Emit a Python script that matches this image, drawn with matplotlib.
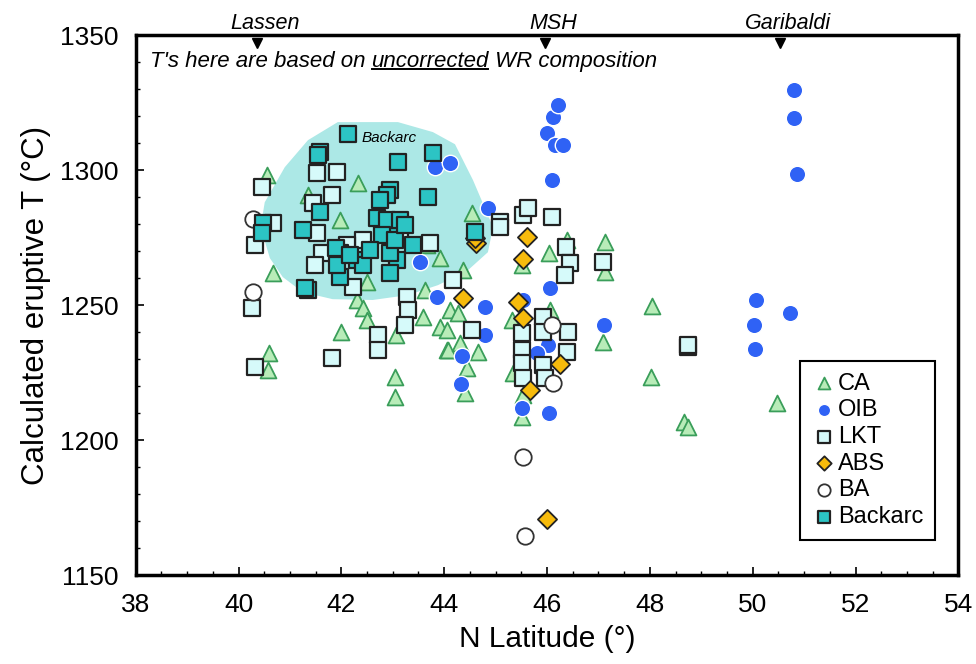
import matplotlib
matplotlib.use("Agg")
import matplotlib.pyplot as plt
from matplotlib.patches import Polygon
from matplotlib.lines import Line2D

plt.rcParams['font.family'] = ['Liberation Sans', 'DejaVu Sans']

# ---- data (latitude in deg N, T in deg C) ----
ca_lat = [40.55, 42.32, 41.35, 41.97, 40.67, 42.50, 43.92, 43.66, 42.30, 42.42, 42.50, 43.63,
          43.59, 43.92, 44.05, 41.99, 43.06, 40.59, 40.57, 43.04, 43.04, 44.05, 44.54, 43.63,
          46.04, 47.13, 47.13, 46.39, 44.37, 44.11, 44.27, 45.32, 46.06, 44.07, 44.66, 44.44,
          44.40, 45.34, 45.53, 45.51, 47.09, 44.31, 48.04, 48.02, 48.67, 48.74, 50.48, 45.51]
ca_t = [1298.1, 1295.2, 1290.7, 1281.5, 1261.9, 1258.5, 1267.4, 1272.2, 1251.9, 1248.9, 1244.4, 1255.6,
        1245.6, 1241.9, 1240.7, 1240.0, 1238.9, 1232.2, 1225.9, 1223.3, 1215.9, 1233.3, 1284.1, 1273.0,
        1269.3, 1273.3, 1262.2, 1274.1, 1263.0, 1248.1, 1247.0, 1244.4, 1248.1, 1233.3, 1232.6, 1226.7,
        1217.4, 1224.8, 1216.7, 1208.5, 1236.3, 1235.9, 1249.6, 1223.3, 1206.7, 1204.8, 1213.7, 1264.8]

oib_lat = [43.82, 44.11, 43.53, 44.85, 46.10, 46.00, 46.12, 46.21, 46.16, 46.31, 46.06, 43.86,
           44.79, 47.11, 44.79, 44.35, 44.33, 45.53, 46.02, 45.81, 45.51, 46.04, 50.07, 50.03,
           50.05, 50.73, 50.81, 50.81, 50.87]
oib_t = [1301.1, 1302.6, 1265.9, 1285.9, 1296.3, 1313.7, 1319.6, 1324.1, 1309.3, 1309.3, 1256.3, 1253.0,
         1249.3, 1242.6, 1238.9, 1231.1, 1220.7, 1251.9, 1235.2, 1232.2, 1211.9, 1210.0, 1251.9, 1242.6,
         1233.7, 1247.0, 1329.6, 1319.3, 1298.5]

lkt_lat = [40.45, 41.52, 41.91, 41.82, 41.45, 40.67, 40.32, 41.52, 42.42, 41.62, 41.48, 42.11,
           42.22, 43.27, 43.29, 43.24, 42.71, 42.71, 41.82, 40.32, 40.26, 44.17, 45.09, 45.09,
           45.53, 45.63, 46.10, 46.37, 46.45, 46.35, 47.09, 44.54, 45.51, 45.92, 46.41, 45.51,
           45.92, 46.39, 45.51, 45.92, 45.53, 45.96, 48.74, 48.74, 43.14, 43.72]
lkt_t = [1293.7, 1298.9, 1299.3, 1290.7, 1287.8, 1280.4, 1272.2, 1276.7, 1274.1, 1269.3, 1264.8, 1272.2,
         1256.7, 1253.0, 1248.1, 1242.6, 1238.9, 1233.3, 1230.4, 1227.0, 1248.9, 1259.3, 1280.7, 1278.9,
         1283.3, 1285.9, 1282.6, 1271.5, 1265.6, 1261.1, 1265.9, 1240.7, 1239.6, 1245.6, 1240.0, 1233.3,
         1240.0, 1232.6, 1228.5, 1227.8, 1223.0, 1223.0, 1234.4, 1235.4, 1277.8, 1273.0]

abs_lat = [44.62, 44.60, 45.61, 45.53, 44.37, 45.44, 45.53, 46.25, 45.67, 46.00]
abs_t = [1273.0, 1275.0, 1275.2, 1267.0, 1252.6, 1251.1, 1245.2, 1228.1, 1218.5, 1170.7]

ba_lat = [40.28, 40.28, 46.10, 46.12, 45.53, 45.57]
ba_t = [1281.9, 1254.8, 1242.6, 1221.1, 1193.7, 1164.4]

bac_lat = [42.13, 41.58, 41.54, 43.10, 43.78, 42.94, 42.89, 43.68, 41.58, 40.47, 40.45, 41.25,
           41.97, 41.97, 41.35, 41.29, 42.69, 43.00, 43.08, 42.94, 42.30, 42.42, 42.94, 43.39,
           42.89, 43.14, 42.79, 44.60, 41.89, 41.91, 42.17, 42.55, 43.04, 43.24, 42.75]
bac_t = [1313.3, 1306.7, 1305.6, 1303.0, 1306.3, 1292.6, 1290.7, 1290.0, 1284.4, 1280.4, 1276.7, 1277.8,
         1269.3, 1260.4, 1255.6, 1256.3, 1282.2, 1277.0, 1266.7, 1261.9, 1266.7, 1264.8, 1269.3, 1272.2,
         1281.5, 1281.5, 1275.9, 1277.0, 1271.1, 1264.8, 1268.5, 1270.4, 1274.1, 1279.6, 1288.9]

# outline of the shaded backarc field
field_lat = [40.61, 40.43, 40.51, 40.90, 41.35, 41.93, 43.10, 43.78, 44.21, 44.56, 44.95, 44.85,
             44.46, 43.88, 43.29, 42.61, 41.83, 41.25, 40.86]
field_t = [1267.4, 1278.9, 1288.1, 1301.1, 1311.1, 1317.8, 1317.8, 1314.1, 1309.6, 1296.3, 1278.9, 1269.6,
           1262.9, 1257.4, 1253.7, 1251.9, 1252.2, 1254.8, 1260.4]

volc_names = ['Lassen', 'MSH', 'Garibaldi']
volc_lat = [40.35, 45.96, 50.53]

fig = plt.figure(figsize=(9.76, 6.64), dpi=100)
ax = fig.add_axes([0.139, 0.134, 0.843, 0.813])

ax.add_patch(Polygon(list(zip(field_lat, field_t)), closed=True, facecolor='#ace8e6',
                     edgecolor='none', zorder=1))
ax.text(42.4, 1312, 'Backarc', fontsize=11, style='italic', va='center', zorder=6)

ax.scatter(ca_lat, ca_t, marker='^', s=130, facecolor='#b8ecb8', edgecolor='#3a9e5a',
           linewidth=1.3, zorder=2, label='CA')
ax.scatter(oib_lat, oib_t, marker='o', s=140, facecolor='#2f62f5', edgecolor='white',
           linewidth=1.0, zorder=3, label='OIB')
ax.scatter(lkt_lat, lkt_t, marker='s', s=145, facecolor='#d6fafa', edgecolor='#222222',
           linewidth=1.6, zorder=4, label='LKT')
ax.scatter(abs_lat, abs_t, marker='D', s=95, facecolor='#f7bb0c', edgecolor='#222222',
           linewidth=1.3, zorder=5, label='ABS')
ax.scatter(ba_lat, ba_t, marker='o', s=140, facecolor='white', edgecolor='#333333',
           linewidth=1.3, zorder=5, label='BA')
ax.scatter(bac_lat, bac_t, marker='s', s=145, facecolor='#2cc4c4', edgecolor='#222222',
           linewidth=1.6, zorder=5, label='Backarc')

ax.set_xlim(38, 54)
ax.set_ylim(1150, 1350)
ax.set_xticks(range(38, 55, 2))
ax.set_yticks(range(1150, 1351, 50))
ax.set_xticks([38 + 0.5 * i for i in range(33)], minor=True)
ax.set_yticks(range(1150, 1351, 10), minor=True)
ax.tick_params(which='both', direction='in', top=False, right=False, labelsize=19)
ax.tick_params(which='major', length=6, width=1.2)
ax.tick_params(which='minor', length=3, width=1.0)
ax.tick_params(axis='x', which='major', pad=13)
ax.tick_params(axis='y', which='major', pad=12)
for sp in ax.spines.values():
    sp.set_linewidth(2.5)

ax.set_xlabel('N Latitude (°)', fontsize=21.5, labelpad=6)
ax.set_ylabel('Calculated eruptive T (°C)', fontsize=22.5, labelpad=7)

# volcano markers along the top edge
ax.plot(volc_lat, [1347] * len(volc_lat), 'v', color='black', ms=7, clip_on=False, zorder=7)
for name, lat in zip(volc_names, volc_lat):
    ax.annotate(name, xy=(lat, 1350), xytext=(6, 1), textcoords='offset points',
                ha='center', va='bottom', fontsize=15.5, style='italic', annotation_clip=False)

# note with underlined word
fs_note = 16
t1 = ax.text(0.017, 0.952, "T's here are based on ", transform=ax.transAxes,
             fontsize=fs_note, style='italic', va='center', ha='left')
t2 = ax.annotate('uncorrected', xy=(1, 0), xycoords=t1, va='bottom', ha='left',
                 fontsize=fs_note, style='italic')
t3 = ax.annotate(' WR composition', xy=(1, 0), xycoords=t2, va='bottom', ha='left',
                 fontsize=fs_note, style='italic')
fig.canvas.draw()
bb = t2.get_window_extent()
inv = fig.transFigure.inverted()
(x0, y0), (x1, _) = inv.transform([(bb.x0 + 1, bb.y0 + 3), (bb.x1 - 1, bb.y0 + 3)])
fig.add_artist(Line2D([x0, x1], [y0, y0], color='black', lw=1.4))

leg = ax.legend(loc='lower right', bbox_to_anchor=(0.972, 0.065), fontsize=17,
                frameon=True, fancybox=False, edgecolor='black', framealpha=1,
                handletextpad=0.1, handlelength=1.0, borderpad=0.5, labelspacing=0.2,
                markerscale=0.75, borderaxespad=0)
leg.get_frame().set_linewidth(1.5)

fig.savefig('out.png', dpi=100)
